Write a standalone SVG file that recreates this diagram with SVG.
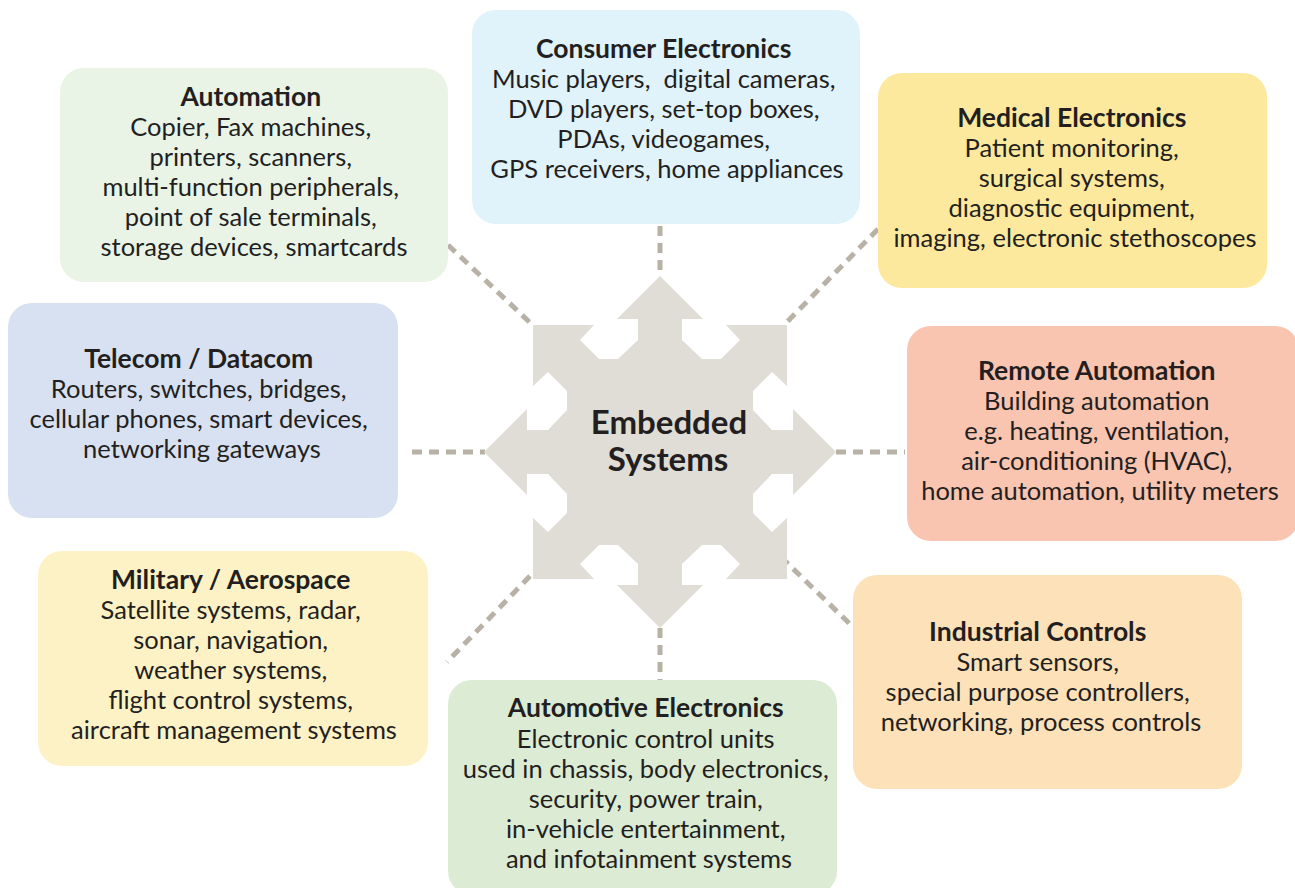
<svg xmlns="http://www.w3.org/2000/svg" width="1295" height="888" viewBox="0 0 1295 888">
  <style>
    .box { stroke: none; }
    .t { font-family: Lato, "Open Sans", "Liberation Sans", sans-serif; font-size: 25.5px; fill: #231f20; text-anchor: middle; }
    .h { font-weight: bold; font-size: 26.5px; }
    .link { fill: none; stroke: #b8b1a6; stroke-width: 5; stroke-dasharray: 10 7; }
    .hub { fill: #e0ddd7; }
    .hubtext { font-family: Lato, "Open Sans", "Liberation Sans", sans-serif; font-size: 33px; font-weight: bold; fill: #231f20; text-anchor: middle; }
  </style>

  <!-- dashed links from the hub to each application area -->
  <g id="connectors">
    <line class="link" x1="660" y1="226" x2="660" y2="277"/>
    <line class="link" x1="660" y1="628" x2="660" y2="680"/>
    <line class="link" x1="412" y1="452" x2="485" y2="452"/>
    <line class="link" x1="836" y1="452" x2="905" y2="452"/>
    <line class="link" x1="448" y1="245" x2="540" y2="332"/>
    <line class="link" x1="878" y1="229" x2="786" y2="323"/>
    <line class="link" x1="530" y1="576" x2="447" y2="662"/>
    <line class="link" x1="781" y1="557" x2="853" y2="627"/>
  </g>

  <!-- central eight-way arrow star -->
  <g id="hub" transform="translate(660 452)">
    <polygon class="hub" points="0,-176 43,-133 22,-133 22,-112 42,-93 61,-93 80,-112 66,-127 127,-127 127,-66 112,-80 93,-61 93,-42 112,-22 133,-22 133,-43 176,0 133,43 133,22 112,22 93,42 93,61 112,80 127,66 127,127 66,127 80,112 61,93 42,93 22,112 22,133 43,133 0,176 -43,133 -22,133 -22,112 -42,93 -61,93 -80,112 -66,127 -127,127 -127,66 -112,80 -93,61 -93,42 -112,22 -133,22 -133,43 -176,0 -133,-43 -133,-22 -112,-22 -93,-42 -93,-61 -112,-80 -127,-66 -127,-127 -66,-127 -80,-112 -61,-93 -42,-93 -22,-112 -22,-133 -43,-133"/>
    <text class="hubtext" x="9" y="-18">Embedded</text>
    <text class="hubtext" x="8" y="19">Systems</text>
  </g>

  <g id="automation">
    <rect class="box" x="60" y="68" width="388" height="214" rx="24" fill="#e9f4e7"/>
    <text class="t" y="106">
      <tspan class="h" x="254">Automation</tspan>
      <tspan x="254" y="136">Copier, Fax machines,</tspan>
      <tspan x="254" y="166">printers, scanners,</tspan>
      <tspan x="254" y="196">multi-function peripherals,</tspan>
      <tspan x="254" y="226">point of sale terminals,</tspan>
      <tspan x="254" y="256">storage devices, smartcards</tspan>
    </text>
  </g>

  <g id="consumer-electronics">
    <rect class="box" x="472" y="10" width="388" height="214" rx="24" fill="#e0f2fa"/>
    <text class="t" y="58">
      <tspan class="h" x="667">Consumer Electronics</tspan>
      <tspan x="667" y="88">Music players,&#160; digital cameras,</tspan>
      <tspan x="667" y="118">DVD players, set-top boxes,</tspan>
      <tspan x="667" y="148">PDAs, videogames,</tspan>
      <tspan x="667" y="178">GPS receivers, home appliances</tspan>
    </text>
  </g>

  <g id="medical-electronics">
    <rect class="box" x="878" y="73" width="389" height="215" rx="24" fill="#fde99e"/>
    <text class="t" y="127">
      <tspan class="h" x="1075">Medical Electronics</tspan>
      <tspan x="1075" y="157">Patient monitoring,</tspan>
      <tspan x="1075" y="187">surgical systems,</tspan>
      <tspan x="1075" y="217">diagnostic equipment,</tspan>
      <tspan x="1075" y="247">imaging, electronic stethoscopes</tspan>
    </text>
  </g>

  <g id="telecom-datacom">
    <rect class="box" x="8" y="303" width="390" height="215" rx="24" fill="#d8e1f1"/>
    <text class="t" y="368">
      <tspan class="h" x="202">Telecom / Datacom</tspan>
      <tspan x="202" y="398">Routers, switches, bridges,</tspan>
      <tspan x="202" y="428">cellular phones, smart devices,</tspan>
      <tspan x="202" y="458">networking gateways</tspan>
    </text>
  </g>

  <g id="remote-automation">
    <rect class="box" x="907" y="326" width="392" height="215" rx="24" fill="#f9c4b0"/>
    <text class="t" y="380">
      <tspan class="h" x="1100">Remote Automation</tspan>
      <tspan x="1100" y="410">Building automation</tspan>
      <tspan x="1100" y="440">e.g. heating, ventilation,</tspan>
      <tspan x="1100" y="470">air-conditioning (HVAC),</tspan>
      <tspan x="1100" y="500">home automation, utility meters</tspan>
    </text>
  </g>

  <g id="military-aerospace">
    <rect class="box" x="38" y="551" width="390" height="215" rx="24" fill="#fdf2c6"/>
    <text class="t" y="589">
      <tspan class="h" x="234">Military / Aerospace</tspan>
      <tspan x="234" y="619">Satellite systems, radar,</tspan>
      <tspan x="234" y="649">sonar, navigation,</tspan>
      <tspan x="234" y="679">weather systems,</tspan>
      <tspan x="234" y="709">flight control systems,</tspan>
      <tspan x="234" y="739">aircraft management systems</tspan>
    </text>
  </g>

  <g id="automotive-electronics">
    <rect class="box" x="448" y="680" width="389" height="215" rx="24" fill="#dcebd3"/>
    <text class="t" y="717">
      <tspan class="h" x="649">Automotive Electronics</tspan>
      <tspan x="649" y="748">Electronic control units</tspan>
      <tspan x="649" y="778">used in chassis, body electronics,</tspan>
      <tspan x="649" y="808">security, power train,</tspan>
      <tspan x="649" y="838">in-vehicle entertainment,</tspan>
      <tspan x="649" y="868">and infotainment systems</tspan>
    </text>
  </g>

  <g id="industrial-controls">
    <rect class="box" x="853" y="575" width="389" height="214" rx="24" fill="#fde1b9"/>
    <text class="t" y="641">
      <tspan class="h" x="1041">Industrial Controls</tspan>
      <tspan x="1041" y="671">Smart sensors,</tspan>
      <tspan x="1041" y="701">special purpose controllers,</tspan>
      <tspan x="1041" y="731">networking, process controls</tspan>
    </text>
  </g>
</svg>
